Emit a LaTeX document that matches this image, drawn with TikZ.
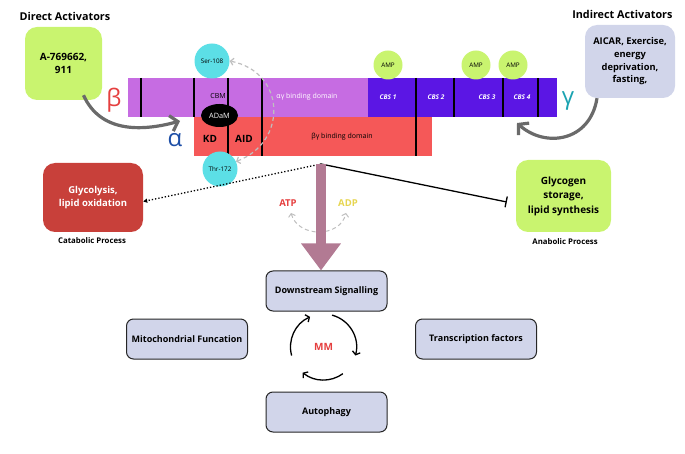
\documentclass[tikz,border=0pt]{standalone}
\usepackage{fontspec}
\setmainfont{Open Sans}
\usetikzlibrary{arrows.meta,positioning,shapes.geometric}

\definecolor{actgreen}{HTML}{C9F46F}
\definecolor{betapurple}{HTML}{C66CE2}
\definecolor{gammaviolet}{HTML}{5B16E4}
\definecolor{alphared}{HTML}{F55858}
\definecolor{sitecyan}{HTML}{5CDFE6}
\definecolor{lavender}{HTML}{D1D5EA}
\definecolor{catred}{HTML}{C8403A}
\definecolor{mauve}{HTML}{B27A93}
\definecolor{betared}{HTML}{E53F3F}
\definecolor{alphablue}{HTML}{1D4EA6}
\definecolor{gammateal}{HTML}{1AA3B1}
\definecolor{adpyellow}{HTML}{E6D550}
\definecolor{curvegray}{HTML}{6A6A6A}

\newcommand{\fsz}[2]{\fontsize{#1}{#2}\selectfont}

\tikzset{
  actbox/.style={fill=actgreen,rounded corners=12pt,align=center,font=\bfseries\fsz{10}{13}},
  procbox/.style={fill=lavender,draw=black!85,line width=1pt,rounded corners=7pt,
    minimum width=121pt,minimum height=40pt,font=\bfseries\fsz{9}{11}},
  phossite/.style={circle,fill=sitecyan,minimum size=35pt,inner sep=0pt,font=\fsz{6.3}{7}},
  ampsite/.style={circle,fill=actgreen,minimum size=29pt,inner sep=0pt,font=\fsz{6.3}{7}},
  domlabel/.style={font=\fsz{7}{8}},
  cbslabel/.style={font=\bfseries\itshape\fsz{6.5}{8},white},
  greek/.style={font=\fsz{24}{28}},
  heading/.style={font=\bfseries\fsz{10.8}{12}},
  proccap/.style={font=\bfseries\fsz{7.8}{9}},
  actarrow/.style={draw=curvegray,line width=3.2pt,-{Straight Barb[length=7pt,width=16pt]}},
  fliparrow/.style={draw=black!25,line width=1.2pt,dash pattern=on 4pt off 3pt,
    {Straight Barb[length=3pt,width=7pt]}-{Straight Barb[length=3pt,width=7pt]}},
  cyclearrow/.style={line width=1.3pt,-{Straight Barb[length=3pt,width=8pt]}}
}

\begin{document}
\begin{tikzpicture}[x=1pt,y=-1pt]
  \useasboundingbox (0,0) rectangle (685,454);

  % activators
  \node[heading,anchor=west] (dirhead) at (16,16) {Direct Activators};
  \node[actbox,minimum width=77pt,minimum height=73pt] (direct) at (63.5,63.5) {A-769662,\\911};
  \node[heading,anchor=east] (indhead) at (676,14) {Indirect Activators};
  \node[fill=lavender,rounded corners=12pt,align=center,font=\bfseries\fsz{9.3}{12.7},
    minimum width=90pt,minimum height=73pt] (indirect) at (630,61.5)
    {AICAR, Exercise,\\energy\\deprivation,\\fasting,};

  % AMPK subunits
  \fill[betapurple] (128,78) rectangle (368,117);
  \fill[gammaviolet] (368,78) rectangle (557,117);
  \fill[alphared] (194,117) rectangle (432,156);
  \foreach \x in {141,194,454,503,538} {
    \draw[line width=1.3pt] (\x,78) -- (\x,117);
  }
  \foreach \x in {228,262,416} {
    \draw[line width=1.3pt] (\x,78) -- (\x,156);
  }
  \node[domlabel] (cbm) at (218,96) {CBM};
  \node[domlabel,white] (agdom) at (307,97) {αγ binding domain};
  \node[domlabel] (bgdom) at (342,137) {βγ binding domain};
  \node[cbslabel] (cbs1) at (388,97) {CBS 1};
  \node[cbslabel] (cbs2) at (436,97) {CBS 2};
  \node[cbslabel] (cbs3) at (487,97) {CBS 3};
  \node[cbslabel] (cbs4) at (522,97) {CBS 4};
  \node[ellipse,fill=black,text=white,minimum width=37pt,minimum height=23pt,inner sep=0pt,
    font=\fsz{7.3}{8}] (adam) at (219.5,115.5) {ADaM};
  \node[font=\bfseries\fsz{10}{11}] (kd) at (210,139) {KD};
  \node[font=\bfseries\fsz{10}{11}] (aid) at (244,139) {AID};

  \node[phossite] (ser) at (212,61) {Ser-108};
  \node[phossite] (thr) at (220,169) {Thr-172};
  \node[ampsite] (amp1) at (388,65) {AMP};
  \node[ampsite] (amp2) at (476,65) {AMP};
  \node[ampsite] (amp3) at (513,65) {AMP};

  \node[greek,betared] (beta) at (114,100) {β};
  \node[greek,alphablue] (alpha) at (175,140) {α};
  \node[greek,gammateal] (gamma) at (568,101) {γ};

  \coordinate (bsite) at (180,121);
  \coordinate (gsite) at (517,123);
  \draw[actarrow] ([xshift=20pt,yshift=5pt]direct.south) .. controls (100,132) and (140,132) .. (bsite);
  \draw[actarrow] ([xshift=-33pt]indirect.south) .. controls (590,142) and (545,148) .. (gsite);
  \draw[fliparrow] (thr.25) .. controls (288,142) and (286,72) .. (ser.east);

  % outcomes
  \coordinate (top) at (321,164);
  \node[fill=catred,rounded corners=12pt,align=center,text=white,font=\bfseries\fsz{9.5}{13.5},
    minimum width=100pt,minimum height=69pt] (cat) at (93,197.5) {Glycolysis,\\lipid oxidation};
  \node[proccap] (catcap) at (92,241) {Catabolic Process};
  \node[actbox,font=\bfseries\fsz{10}{14.5},minimum width=95pt,minimum height=72pt] (ana) at (563.5,196)
    {Glycogen\\storage,\\lipid synthesis};
  \node[proccap] (anacap) at (565,242) {Anabolic Process};
  \draw[line width=1.3pt,dotted,-{Triangle[length=4pt,width=4pt]}] (top) -- ([yshift=-4pt]cat.east);
  \draw[line width=1.3pt,-{Bar[width=11pt]}] (top) -- ([xshift=-9pt,yshift=-6pt]ana.west);

  % downstream
  \node[procbox] (ds) at (326.5,291) {Downstream Signalling};
  \node[procbox] (mito) at (187,339) {Mitochondrial Funcation};
  \node[procbox] (tf) at (476,339) {Transcription factors};
  \node[procbox] (auto) at (326.5,412) {Autophagy};

  \node[font=\bfseries\fsz{9.5}{11},betared] (atp) at (288,203) {ATP};
  \node[font=\bfseries\fsz{9.5}{11},adpyellow] (adp) at (348,203) {ADP};
  \draw[fliparrow,line width=1pt] ([xshift=3pt,yshift=-3pt]atp.south) .. controls (298,238) and (340,238) .. ([xshift=-2pt,yshift=-3pt]adp.south);
  \draw[mauve,line width=10pt,-{Triangle[length=27pt,width=38pt]}] (top) -- (top |- ds.north);

  \node[font=\bfseries\fsz{10}{12},betared] (mm) at (323.5,347) {MM};
  \draw[cyclearrow] (mm) ++(165:33) arc[start angle=165,end angle=246,radius=33];
  \draw[cyclearrow] (mm) ++(285:33) arc[start angle=285,end angle=375,radius=33];
  \draw[cyclearrow] (mm) ++(54:33) arc[start angle=54,end angle=129,radius=33];
\end{tikzpicture}
\end{document}
